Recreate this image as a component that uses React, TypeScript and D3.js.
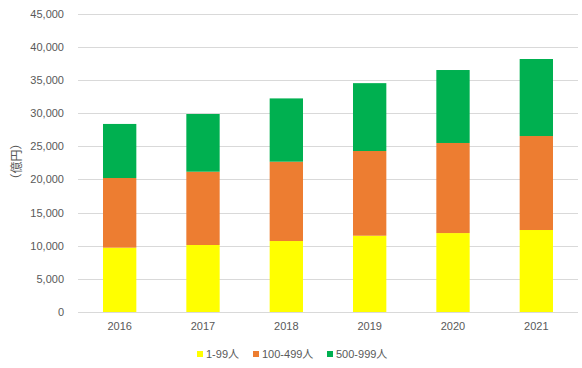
import React, { useEffect, useRef } from "react";
import * as d3 from "d3";

const years = ["2016", "2017", "2018", "2019", "2020", "2021"];
const small = [9700, 10100, 10700, 11500, 11900, 12360];
const medium = [10500, 11050, 11960, 12770, 13580, 14170];
const large = [8150, 8700, 9540, 10230, 11000, 11610];
const seriesNames = ["1-99人", "100-499人", "500-999人"];
const colors = ["#FFFF00", "#ED7D31", "#00B050"];
const yTicks = [0, 5000, 10000, 15000, 20000, 25000, 30000, 35000, 40000, 45000];

const W = 582, H = 368;

export default function App() {
    const ref = useRef<SVGSVGElement>(null);

    useEffect(() => {
        const svg = d3.select(ref.current);
        svg.selectAll("*").remove();

        const font = "'Liberation Sans', 'Noto Sans CJK JP', sans-serif";
        const textColor = "#595959";

        const x = d3.scaleBand().domain(years).range([78, 578]).paddingInner(0.6).paddingOuter(0.3);
        const y = d3.scaleLinear().domain([0, 45000]).range([312, 13.5]);

        // grid
        svg.append("g")
            .selectAll("line")
            .data(yTicks)
            .join("line")
            .attr("x1", 78)
            .attr("x2", 578)
            .attr("y1", d => Math.round(y(d)) + 0.5)
            .attr("y2", d => Math.round(y(d)) + 0.5)
            .attr("stroke", "#d9d9d9")
            .attr("stroke-width", 1);

        svg.append("g")
            .selectAll("text")
            .data(yTicks)
            .join("text")
            .attr("x", 64)
            .attr("y", d => y(d) + 4)
            .attr("text-anchor", "end")
            .attr("font-family", font)
            .attr("font-size", 11)
            .attr("fill", textColor)
            .text(d => d3.format(",")(d));

        const rows = years.map((yr, i) => ({ year: yr, s0: small[i], s1: medium[i], s2: large[i] }));
        const stack = d3.stack<any>().keys(["s0", "s1", "s2"])(rows);

        svg.append("g")
            .selectAll("g")
            .data(stack)
            .join("g")
            .attr("fill", (d, i) => colors[i])
            .selectAll("rect")
            .data(d => d)
            .join("rect")
            .attr("x", d => x(d.data.year)!)
            .attr("width", x.bandwidth())
            .attr("y", d => y(d[1]))
            .attr("height", d => y(d[0]) - y(d[1]));

        svg.append("g")
            .selectAll("text")
            .data(years)
            .join("text")
            .attr("x", d => x(d)! + x.bandwidth() / 2)
            .attr("y", 330)
            .attr("text-anchor", "middle")
            .attr("font-family", font)
            .attr("font-size", 11)
            .attr("fill", textColor)
            .text(d => d);

        // y axis title
        svg.append("text")
            .attr("transform", "translate(20.5,161.5) rotate(-90)")
            .attr("text-anchor", "middle")
            .attr("font-family", "'Noto Sans CJK JP', sans-serif")
            .attr("font-size", 12)
            .attr("fill", textColor)
            .text("（億円）");

        // legend
        const legendX = [197, 253, 327];
        const lg = svg.append("g")
            .selectAll("g")
            .data(seriesNames)
            .join("g")
            .attr("transform", (d, i) => `translate(${legendX[i]},354)`);
        lg.append("rect")
            .attr("x", 0)
            .attr("y", -3)
            .attr("width", 6)
            .attr("height", 6)
            .attr("fill", (d, i) => colors[i]);
        lg.append("text")
            .attr("x", 9)
            .attr("y", 4)
            .attr("font-family", font)
            .attr("font-size", 11)
            .attr("fill", textColor)
            .text(d => d);
    }, []);

    return (
        <svg ref={ref} width={W} height={H} style={{ position: "absolute", left: 0, top: 0 }} />
    );
}
